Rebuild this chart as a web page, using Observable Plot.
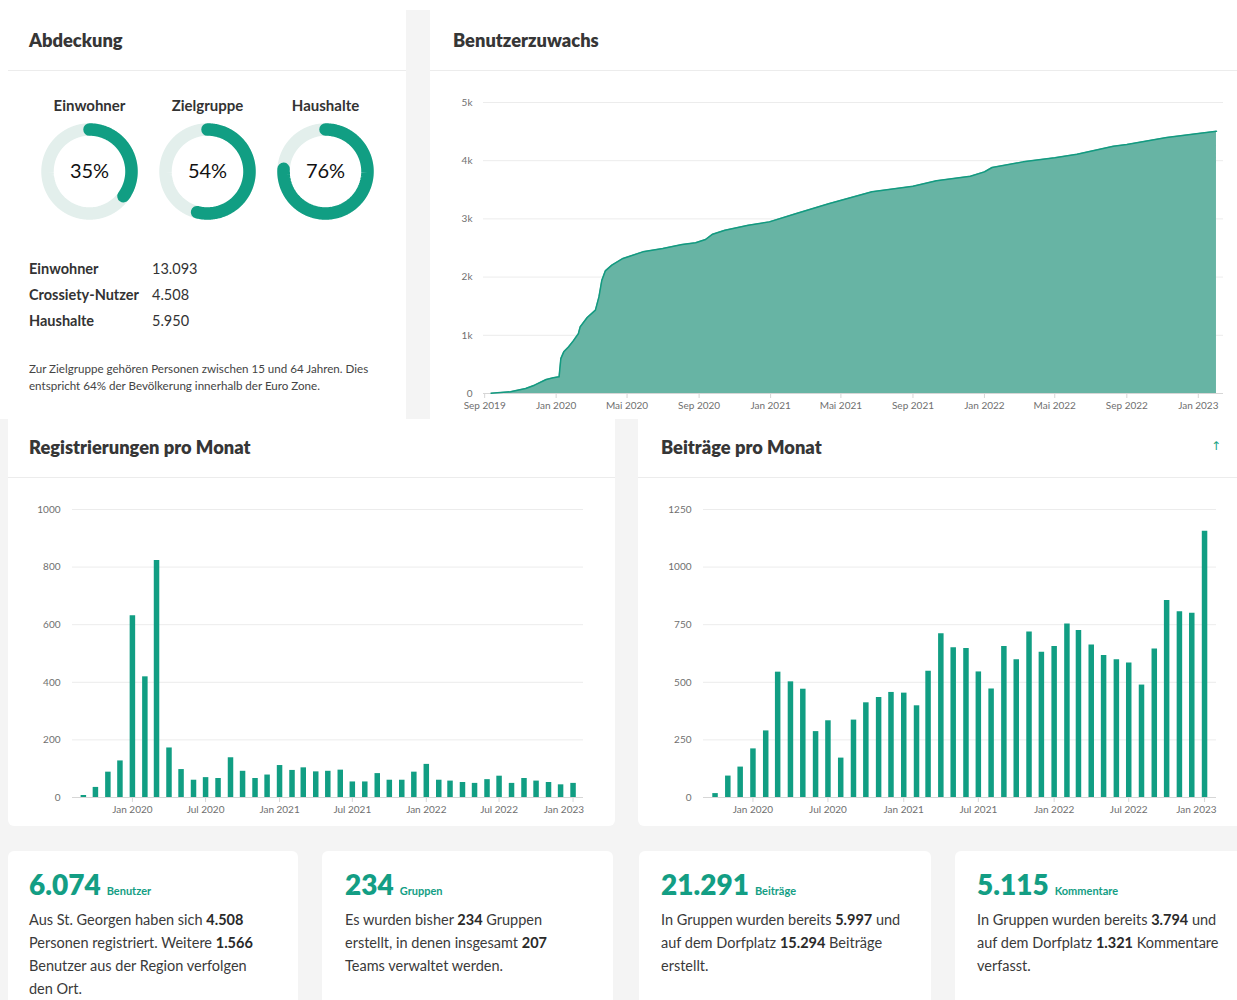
<!DOCTYPE html>
<html lang="de"><head><meta charset="utf-8">
<script src="https://cdn.jsdelivr.net/npm/d3@7"></script>
<script src="https://cdn.jsdelivr.net/npm/@observablehq/plot@0.6"></script>
<style>
html,body{margin:0;padding:0;}
body{width:1237px;height:1000px;position:relative;overflow:hidden;background:#fff;font-family:Lato,"Open Sans",sans-serif;color:#333;}
.abs{position:absolute;}
.gray{background:#f4f4f4;}
.white{background:#fff;}
.sep{height:1px;background:#ececec;}
.title{font-weight:800;font-size:18.3px;line-height:20px;color:#363636;white-space:nowrap;}
.stat{font-size:14.5px;line-height:26px;color:#333;white-space:nowrap;}
.stat b{display:inline-block;width:123px;font-weight:700;}
.note{font-size:11.6px;line-height:17px;color:#444;white-space:nowrap;}
.card{background:#fff;border-radius:6px;}
.big{font-size:28px;font-weight:800;color:#139e84;line-height:30px;white-space:nowrap;}
.big small{font-size:11px;font-weight:700;margin-left:6px;}
.body{font-size:14.5px;line-height:23px;color:#3a3a3a;white-space:nowrap;}
.body b{color:#2a2a2a;}
svg g[aria-label="x-axis tick"]{stroke:#d6d6d6;}
svg g[aria-label="x-axis tick label"], svg g[aria-label="y-axis tick label"]{fill:#6f6f6f;}
</style></head>
<body>
<!-- backgrounds -->
<div class="abs gray" style="left:406px;top:10px;width:24px;height:409px"></div>
<div class="abs gray" style="left:0;top:419px;width:1237px;height:581px"></div>
<div class="abs white" style="left:8px;top:419px;width:607px;height:407px;border-radius:0 0 6px 6px"></div>
<div class="abs white" style="left:638px;top:419px;width:599px;height:407px;border-radius:0 0 0 6px"></div>
<div class="abs card" style="left:8px;top:851px;width:290px;height:160px"></div>
<div class="abs card" style="left:322px;top:851px;width:291px;height:160px"></div>
<div class="abs card" style="left:639px;top:851px;width:292px;height:160px"></div>
<div class="abs card" style="left:955px;top:851px;width:290px;height:160px"></div>

<!-- separators -->
<div class="abs sep" style="left:8px;top:70px;width:398px"></div>
<div class="abs sep" style="left:430px;top:70px;width:807px"></div>
<div class="abs sep" style="left:8px;top:477px;width:607px"></div>
<div class="abs sep" style="left:638px;top:477px;width:599px"></div>

<!-- titles -->
<div class="abs title" style="left:29px;top:30px">Abdeckung</div>
<div class="abs title" style="left:453px;top:30px">Benutzerzuwachs</div>
<div class="abs title" style="left:29px;top:437px">Registrierungen pro Monat</div>
<div class="abs title" style="left:661px;top:437px">Beiträge pro Monat</div>
<div class="abs" style="left:1211px;top:439px;font-size:12px;color:#1ba383;font-family:'DejaVu Sans',sans-serif">↑</div>

<div id="gauges" class="abs" style="left:30px;top:91px;width:354px;height:130px;display:flex"></div>

<div class="abs stat" style="left:29px;top:256px">
<div><b>Einwohner</b>13.093</div>
<div><b>Crossiety-Nutzer</b>4.508</div>
<div><b>Haushalte</b>5.950</div>
</div>
<div class="abs note" style="left:29px;top:360px">Zur Zielgruppe gehören Personen zwischen 15 und 64 Jahren. Dies<br>entspricht 64% der Bevölkerung innerhalb der Euro Zone.</div>

<div id="area" class="abs" style="left:430px;top:80px"></div>
<div id="reg" class="abs" style="left:8px;top:490px"></div>
<div id="posts" class="abs" style="left:638px;top:490px"></div>

<!-- KPI cards -->
<div class="abs" style="left:29px;top:869px"><div class="big">6.074<small>Benutzer</small></div></div>
<div class="abs body" style="left:29px;top:908px">Aus St. Georgen haben sich <b>4.508</b><br>Personen registriert. Weitere <b>1.566</b><br>Benutzer aus der Region verfolgen<br>den Ort.</div>
<div class="abs" style="left:345px;top:869px"><div class="big">234<small>Gruppen</small></div></div>
<div class="abs body" style="left:345px;top:908px">Es wurden bisher <b>234</b> Gruppen<br>erstellt, in denen insgesamt <b>207</b><br>Teams verwaltet werden.</div>
<div class="abs" style="left:661px;top:869px"><div class="big">21.291<small>Beiträge</small></div></div>
<div class="abs body" style="left:661px;top:908px">In Gruppen wurden bereits <b>5.997</b> und<br>auf dem Dorfplatz <b>15.294</b> Beiträge<br>erstellt.</div>
<div class="abs" style="left:977px;top:869px"><div class="big">5.115<small>Kommentare</small></div></div>
<div class="abs body" style="left:977px;top:908px">In Gruppen wurden bereits <b>3.794</b> und<br>auf dem Dorfplatz <b>1.321</b> Kommentare<br>verfasst.</div>

<script>
// ---------- DATA ----------
const gaugeNames = ["Einwohner", "Zielgruppe", "Haushalte"];
const gaugePercent = [35, 54, 76];

const areaDates = ["2019-09-12","2019-10-15","2019-11-10","2019-11-25","2019-12-15","2019-12-27","2020-01-06","2020-01-09","2020-01-14","2020-01-22","2020-01-30","2020-02-08","2020-02-11","2020-02-23","2020-03-08","2020-03-14","2020-03-19","2020-03-25","2020-04-05","2020-04-24","2020-05-28","2020-07-01","2020-08-03","2020-08-26","2020-09-12","2020-09-24","2020-10-15","2020-11-24","2020-12-30","2021-02-14","2021-04-10","2021-06-23","2021-09-01","2021-10-11","2021-12-08","2022-01-01","2022-01-14","2022-03-08","2022-05-01","2022-06-08","2022-08-09","2022-09-01","2022-11-08","2023-01-01","2023-02-01"];
const areaValues = [5,30,85,143,240,270,286,600,716,800,900,1030,1145,1306,1432,1660,1947,2108,2205,2320,2434,2491,2560,2589,2646,2737,2806,2892,2949,3093,3260,3465,3562,3654,3734,3808,3883,3980,4049,4112,4249,4278,4398,4467,4508];
const areaYTicks = [0, 1000, 2000, 3000, 4000, 5000];
const areaXTicks = ["2019-09-01","2020-01-01","2020-05-01","2020-09-01","2021-01-01","2021-05-01","2021-09-01","2022-01-01","2022-05-01","2022-09-01","2023-01-01"];

const regMonths = ["2019-09","2019-10","2019-11","2019-12",
  "2020-01","2020-02","2020-03","2020-04","2020-05","2020-06","2020-07","2020-08","2020-09","2020-10","2020-11","2020-12",
  "2021-01","2021-02","2021-03","2021-04","2021-05","2021-06","2021-07","2021-08","2021-09","2021-10","2021-11","2021-12",
  "2022-01","2022-02","2022-03","2022-04","2022-05","2022-06","2022-07","2022-08","2022-09","2022-10","2022-11","2022-12",
  "2023-01"];
const regValues = [7,35,88,127,
  631,419,823,172,97,60,69,66,138,91,66,78,
  111,94,103,89,91,95,54,54,83,60,60,88,
  115,60,57,52,49,62,74,49,66,57,52,44,
  49];
const regYTicks = [0, 200, 400, 600, 800, 1000];

const postMonths = ["2019-10","2019-11","2019-12",
  "2020-01","2020-02","2020-03","2020-04","2020-05","2020-06","2020-07","2020-08","2020-09","2020-10","2020-11","2020-12",
  "2021-01","2021-02","2021-03","2021-04","2021-05","2021-06","2021-07","2021-08","2021-09","2021-10","2021-11","2021-12",
  "2022-01","2022-02","2022-03","2022-04","2022-05","2022-06","2022-07","2022-08","2022-09","2022-10","2022-11","2022-12",
  "2023-01"];
const postValues = [17,93,132,
  211,289,544,502,470,286,333,171,336,411,434,456,
  453,398,548,711,650,647,545,471,655,598,718,630,
  655,753,725,662,616,598,584,488,644,855,806,800,
  1156];
const postYTicks = [0, 250, 500, 750, 1000, 1250];

const barXTicks = ["2020-01-01","2020-07-01","2021-01-01","2021-07-01","2022-01-01","2022-07-01","2023-01-01"];
const monthNamesDE = ["Jan","Feb","Mär","Apr","Mai","Jun","Jul","Aug","Sep","Okt","Nov","Dez"];

// ---------- HELPERS ----------
const teal = "#119e83";
const fmtMonth = d => `${monthNamesDE[d.getUTCMonth()]} ${d.getUTCFullYear()}`;
const baseStyle = {fontFamily: "Lato, 'Open Sans', sans-serif", fontSize: "10px", color: "#6f6f6f", background: "transparent", overflow: "visible"};

// ---------- GAUGES ----------
const R = 42;
gaugeNames.forEach((name, i) => {
  const pct = gaugePercent[i];
  const pts = frac => d3.range(181).map(k => {
    const t = k / 180 * frac * 2 * Math.PI;
    return {x: R * Math.sin(t), y: R * Math.cos(t)};
  });
  const g = [{name, pct}];
  const chart = Plot.plot({
    width: 118, height: 130, marginTop: 30, marginBottom: 0, marginLeft: 0, marginRight: 0,
    x: {domain: [-59, 59], axis: null},
    y: {domain: [-50, 50], axis: null},
    style: {...baseStyle, color: "#333"},
    marks: [
      Plot.line(pts(1), {x: "x", y: "y", stroke: "#e3efec", strokeWidth: 12.5}),
      Plot.line(pts(pct / 100), {x: "x", y: "y", stroke: teal, strokeWidth: 12.5, strokeLinecap: "round"}),
      Plot.text(g, {text: d => d.pct + "%", frameAnchor: "middle", fontSize: 20, fill: "#111"}),
      Plot.text(g, {text: "name", frameAnchor: "top", lineAnchor: "middle", dy: -15, fontSize: 15, fontWeight: "bold", fill: "#333"})
    ]
  });
  document.getElementById("gauges").append(chart);
});

// ---------- AREA ----------
const areaData = areaDates.map((d, i) => ({date: new Date(d), value: areaValues[i]}));
const area = Plot.plot({
  width: 807, height: 330, marginTop: 22, marginBottom: 17, marginLeft: 53, marginRight: 14,
  style: baseStyle,
  x: {type: "utc", domain: [new Date("2019-08-30"), new Date("2023-02-13")], ticks: areaXTicks.map(d => new Date(d)),
      tickFormat: fmtMonth, tickSize: 5, tickPadding: 3, label: null},
  y: {domain: [0, 5000], ticks: areaYTicks, tickFormat: d => d === 0 ? "0" : d / 1000 + "k", tickSize: 0, tickPadding: 11, label: null},
  marks: [
    Plot.ruleY(areaYTicks, {stroke: "#ececec"}),
    Plot.ruleY([0], {stroke: "#d6d6d6"}),
    Plot.areaY(areaData, {x: "date", y: "value", fill: "#67b4a4"}),
    Plot.lineY(areaData, {x: "date", y: "value", stroke: "#139a80", strokeWidth: 1.5})
  ]
});
document.getElementById("area").append(area);

// ---------- BAR CHARTS ----------
// the last tick label is kept inside the plot frame (right-aligned), as in the original
function barChart(months, values, yTicks, yMax, domain, w, ml, mr, lastShift) {
  const data = months.map((m, i) => ({date: new Date(m + "-01"), value: values[i]}));
  const ticks = barXTicks.map(d => new Date(d));
  const last = ticks[ticks.length - 1];
  return Plot.plot({
    width: w, height: 330, marginTop: 19, marginBottom: 23, marginLeft: ml, marginRight: mr,
    style: baseStyle,
    x: {type: "utc", domain: domain.map(d => new Date(d)), ticks,
        tickFormat: d => +d === +last ? "" : fmtMonth(d), tickSize: 5, tickPadding: 3, label: null},
    y: {domain: [0, yMax], ticks: yTicks, tickSize: 0, tickPadding: 12, label: null, tickFormat: d => String(d)},
    marks: [
      Plot.ruleY(yTicks, {stroke: "#ececec"}),
      Plot.ruleY([0], {stroke: "#d6d6d6"}),
      Plot.ruleX(data, {x: "date", y1: 0, y2: "value", stroke: teal, strokeWidth: 5.5}),
      Plot.text([last], {x: d => d, text: fmtMonth, frameAnchor: "bottom", lineAnchor: "top", dy: 8,
                         textAnchor: "end", dx: lastShift, fill: "#6f6f6f", fontSize: 10})
    ]
  });
}
document.getElementById("reg").append(
  barChart(regMonths, regValues, regYTicks, 1000, ["2019-08-05", "2023-01-27"], 607, 64, 32, 11));
document.getElementById("posts").append(
  barChart(postMonths, postValues, postYTicks, 1250, ["2019-09-03", "2023-01-30"], 599, 65, 21, 12));
</script>
</body></html>
